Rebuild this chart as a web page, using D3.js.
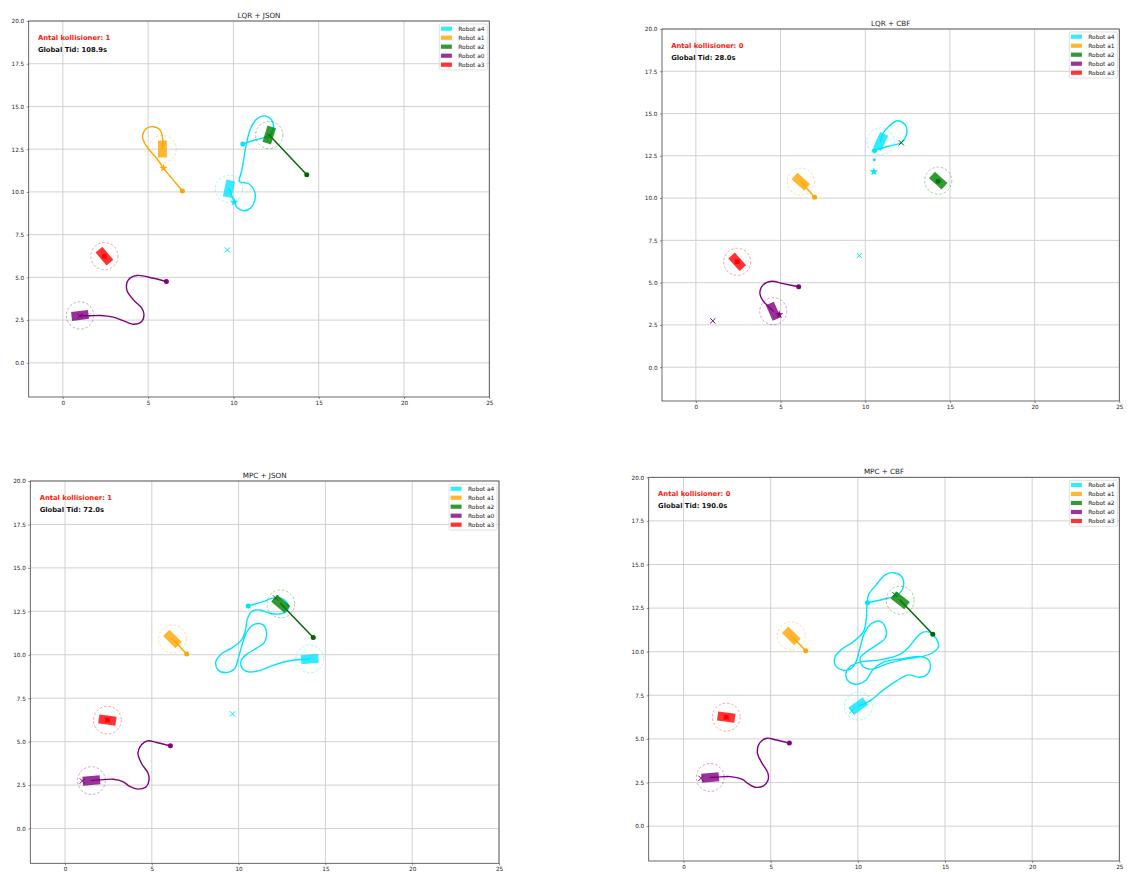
<!DOCTYPE html>
<html>
<head>
<meta charset="utf-8">
<script src="https://cdn.jsdelivr.net/npm/d3@7"></script>
<style>
  body { margin: 0; background: #fff; }
  svg { display: block; font-family: "DejaVu Sans", sans-serif; }
</style>
</head>
<body>
<svg id="fig" width="1127" height="874"></svg>
<script>
// ---- shared settings -------------------------------------------------------
const robotNames  = ["Robot a4", "Robot a1", "Robot a2", "Robot a0", "Robot a3"];
const robotColors = ["#00e5ff", "#ffa500", "#008000", "#800080", "#ff0000"];
const pathColors  = ["#00e5ff", "#ffa500", "#006400", "#800080", "#ff0000"];

const panelTitles     = ["LQR + JSON", "LQR + CBF", "MPC + JSON", "MPC + CBF"];
const collisionCounts = [1, 0, 1, 0];
const globalTimes     = ["108.9", "28.0", "72.0", "190.0"];

const xTicks  = [0, 5, 10, 15, 20, 25];
const yTicks  = [0, 2.5, 5, 7.5, 10, 12.5, 15, 17.5, 20];
const xDomain = [-2, 25];
const yDomain = [-2, 20];

// start and goal positions, robot order a4, a1, a2, a0, a3 (null = no goal marker)
const startPoints = [[10.55, 12.81], [7.01, 10.05], [14.3, 11.0], [6.07, 4.76], [2.44, 6.24]];
const goalPoints  = [[9.65, 6.6], null, [12.13, 13.27], [1.0, 2.74], [2.44, 6.24]];

// ---- LQR + JSON ------------------------------------------------------------
const lqrJsonPaths = [
  [[10.55,12.81],[11.3,13.05],[12.05,13.3],[12.35,13.75],[12.2,14.25],[11.8,14.45],[11.35,14.25],
   [11.0,13.7],[10.8,13.0],[10.65,12.2],[10.5,11.3],[10.35,10.6],[10.6,10.55],[10.95,10.45],
   [11.25,10.0],[11.25,9.5],[11.0,9.05],[10.6,8.9],[10.2,9.1],[10.05,9.4],[9.9,9.8],[9.74,10.18]],
  [[7.01,10.05],[6.45,10.72],[5.9,11.39],[5.5,11.97],[4.92,12.65],[4.67,13.23],[4.92,13.72],
   [5.25,13.82],[5.7,13.63],[5.86,13.04],[5.84,12.51]],
  [[14.3,11.0],[12.1,13.33]],
  [[6.07,4.76],[5.31,4.95],[4.33,5.11],[3.84,4.85],[3.75,4.27],[4.14,3.68],[4.63,3.2],[4.76,2.81],
   [4.63,2.42],[4.14,2.26],[3.65,2.42],[2.96,2.67],[2.19,2.77],[1.5,2.75],[1.01,2.77]],
  [[2.44,6.24]]
];
const lqrJsonPoses = [[9.74,10.18,78],[5.84,12.51,90],[12.1,13.33,73],[1.01,2.77,7],[2.44,6.24,-50]];
const lqrJsonStars = [[0,10.05,9.4],[1,5.9,11.39]];
const lqrJsonDots  = [];

// ---- LQR + CBF -------------------------------------------------------------
const lqrCbfPaths = [
  [[10.55,12.81],[11.3,13.05],[12.13,13.29],[12.42,13.7],[12.38,14.3],[11.9,14.57],[11.4,14.25],
   [11.0,13.75],[10.91,13.35]],
  [[7.01,10.05],[6.2,10.97]],
  [[14.3,11.0]],
  [[6.07,4.76],[5.16,4.94],[4.47,5.08],[3.98,4.88],[3.78,4.39],[3.98,3.9],[4.27,3.6],[4.57,3.31]],
  [[2.44,6.24]]
];
const lqrCbfPoses = [[10.91,13.35,65],[6.2,10.97,-42],[14.31,11.03,-42],[4.57,3.31,-66],[2.44,6.23,-48]];
const lqrCbfStars = [[0,10.51,11.56],[3,4.92,3.11]];
const lqrCbfDots  = [[0,10.53,12.27]];

// ---- MPC + JSON ------------------------------------------------------------
const mpcJsonPaths = [
  [[10.55,12.81],[11.41,13.06],[11.99,13.26],[12.56,13.2],[12.85,12.87],[12.8,12.54],[12.37,12.35],
   [11.8,12.39],[11.22,12.58],[10.74,12.49],[10.49,12.01],[10.4,11.43],[10.17,10.86],[9.59,10.38],
   [9.01,10.05],[8.69,9.61],[8.82,9.13],[9.3,8.98],[9.78,9.21],[9.97,9.75],[10.17,10.47],[10.49,11.34],
   [10.93,11.76],[11.41,11.72],[11.61,11.24],[11.47,10.7],[11.03,10.38],[10.55,10.09],[10.17,9.71],
   [10.17,9.29],[10.55,9.02],[11.12,9.07],[11.8,9.32],[12.56,9.57],[13.34,9.71],[14.1,9.76]],
  [[7.01,10.05],[6.19,10.91]],
  [[14.3,11.0],[12.43,12.93]],
  [[6.07,4.76],[5.27,4.95],[4.78,5.05],[4.4,4.82],[4.2,4.34],[4.4,3.76],[4.78,3.19],[4.84,2.8],
   [4.69,2.42],[4.2,2.27],[3.73,2.42],[3.34,2.7],[2.77,2.84],[2.0,2.8],[1.52,2.76]],
  [[2.44,6.24]]
];
const mpcJsonPoses = [[14.1,9.76,5],[6.19,10.91,-45],[12.43,12.93,-40],[1.52,2.76,5],[2.44,6.24,-8]];
const mpcJsonStars = [];
const mpcJsonDots  = [];

// ---- MPC + CBF -------------------------------------------------------------
const mpcCbfPaths = [
  [[10.55,12.81],[11.47,13.01],[12.27,13.25],[12.61,13.73],[12.52,14.3],[12.04,14.53],[11.57,14.4],
   [11.05,13.83],[10.61,13.25],[10.52,12.58],[10.48,11.82],[10.32,11.15],[9.75,10.58],[9.08,10.14],
   [8.7,9.72],[8.7,9.24],[9.08,8.96],[9.56,9.0],[9.9,9.43],[10.09,10.1],[10.42,11.15],[10.86,11.67],
   [11.32,11.73],[11.62,11.25],[11.57,10.77],[11.09,10.39],[10.52,10.01],[10.13,9.63],[10.29,9.15],
   [10.8,9.0],[11.66,9.3],[12.81,9.59],[13.67,9.72],[14.24,9.91],[14.62,10.29],[14.5,10.75],
   [14.15,11.1],[13.75,11.12],[13.35,10.8],[12.95,10.3],[12.43,9.86],[11.28,9.53],[10.23,9.43],
   [9.56,9.15],[9.31,8.67],[9.56,8.23],[10.03,8.15],[10.48,8.38],[10.86,8.96],[11.47,9.4],
   [12.61,9.6],[13.57,9.72],[14.05,9.53],[14.15,9.05],[13.86,8.61],[13.47,8.54],[12.9,8.67],
   [12.24,8.34],[11.47,7.81],[10.71,7.2],[10.03,6.88]],
  [[7.01,10.05],[6.18,10.91]],
  [[14.3,11.0],[12.43,12.95]],
  [[6.07,4.76],[5.26,4.95],[4.78,5.04],[4.36,4.76],[4.24,4.18],[4.5,3.61],[4.84,3.04],[4.84,2.61],
   [4.59,2.31],[4.11,2.23],[3.73,2.42],[3.35,2.69],[2.68,2.84],[1.92,2.81],[1.53,2.79]],
  [[2.44,6.24]]
];
const mpcCbfPoses = [[10.03,6.88,36],[6.18,10.91,-45],[12.43,12.95,-38],[1.53,2.79,5],[2.45,6.25,-8]];
const mpcCbfStars = [];
const mpcCbfDots  = [];

// ---- layout of the four axes (pixels) -------------------------------------
const panelBoxes = [
  { l: 28.7,  t: 21,    w: 460.6, h: 376   },
  { l: 662,   t: 29,    w: 457.3, h: 372   },
  { l: 30.3,  t: 481,   w: 468.7, h: 382.3 },
  { l: 648.7, t: 477.3, w: 470.6, h: 383.7 }
];

const panels = [
  { paths: lqrJsonPaths, poses: lqrJsonPoses, stars: lqrJsonStars, dots: lqrJsonDots },
  { paths: lqrCbfPaths,  poses: lqrCbfPoses,  stars: lqrCbfStars,  dots: lqrCbfDots  },
  { paths: mpcJsonPaths, poses: mpcJsonPoses, stars: mpcJsonStars, dots: mpcJsonDots },
  { paths: mpcCbfPaths,  poses: mpcCbfPoses,  stars: mpcCbfStars,  dots: mpcCbfDots  }
];

const ROBOT_LEN = 1.0, ROBOT_WID = 0.52, SAFE_RADIUS = 0.8;

const svg = d3.select("#fig");

panels.forEach((p, pi) => {
  const box = panelBoxes[pi];
  const x = d3.scaleLinear().domain(xDomain).range([box.l, box.l + box.w]);
  const y = d3.scaleLinear().domain(yDomain).range([box.t + box.h, box.t]);
  const k = (x(1) - x(0));

  const g = svg.append("g");
  const clipId = "clip" + pi;
  g.append("clipPath").attr("id", clipId)
    .append("rect").attr("x", box.l).attr("y", box.t).attr("width", box.w).attr("height", box.h);

  // grid
  g.append("g").selectAll("line").data(xTicks).join("line")
    .attr("x1", d => x(d)).attr("x2", d => x(d))
    .attr("y1", box.t).attr("y2", box.t + box.h)
    .attr("stroke", "#cccccc").attr("stroke-width", 0.9);
  g.append("g").selectAll("line").data(yTicks).join("line")
    .attr("y1", d => y(d)).attr("y2", d => y(d))
    .attr("x1", box.l).attr("x2", box.l + box.w)
    .attr("stroke", "#cccccc").attr("stroke-width", 0.9);

  // axes
  const xAxis = d3.axisBottom(x).tickValues(xTicks).tickFormat(d3.format("d"))
    .tickSize(2).tickPadding(2);
  const yAxis = d3.axisLeft(y).tickValues(yTicks).tickFormat(d3.format(".1f"))
    .tickSize(2).tickPadding(2.5);
  const gx = g.append("g").attr("transform", `translate(0,${box.t + box.h})`).call(xAxis);
  const gy = g.append("g").attr("transform", `translate(${box.l},0)`).call(yAxis);
  [gx, gy].forEach(a => {
    a.select(".domain").remove();
    a.selectAll(".tick line").attr("stroke", "#444").attr("stroke-width", 0.6);
    a.selectAll(".tick text").attr("font-size", 5.7).attr("fill", "#222")
      .attr("font-family", "DejaVu Sans");
  });

  const plot = g.append("g").attr("clip-path", `url(#${clipId})`);

  // trajectories
  const line = d3.line().x(d => x(d[0])).y(d => y(d[1])).curve(d3.curveCatmullRom.alpha(0.5));
  p.paths.forEach((path, ri) => {
    if (path.length < 2) return;
    plot.append("path").attr("d", line(path))
      .attr("fill", "none").attr("stroke", pathColors[ri])
      .attr("stroke-width", 1.4).attr("stroke-linejoin", "round").attr("stroke-linecap", "round");
  });

  // start markers
  startPoints.forEach((s, ri) => {
    plot.append("circle").attr("cx", x(s[0])).attr("cy", y(s[1])).attr("r", 2.5)
      .attr("fill", pathColors[ri]);
  });
  // extra waypoint dots
  p.dots.forEach(d => {
    plot.append("circle").attr("cx", x(d[1])).attr("cy", y(d[2])).attr("r", 1.5)
      .attr("fill", pathColors[d[0]]);
  });
  // goal markers
  goalPoints.forEach((gp, ri) => {
    if (!gp) return;
    const cx = x(gp[0]), cy = y(gp[1]), s = 2.6;
    plot.append("path")
      .attr("d", `M${cx - s},${cy - s}L${cx + s},${cy + s}M${cx - s},${cy + s}L${cx + s},${cy - s}`)
      .attr("stroke", pathColors[ri]).attr("stroke-width", 1).attr("fill", "none");
  });
  // current target stars
  const star = d3.symbol().type(d3.symbolStar).size(22);
  p.stars.forEach(st => {
    plot.append("path").attr("d", star())
      .attr("transform", `translate(${x(st[1])},${y(st[2])})`)
      .attr("fill", pathColors[st[0]]);
  });

  // robot bodies
  p.poses.forEach((pose, ri) => {
    plot.append("rect")
      .attr("x", -ROBOT_LEN * k / 2).attr("y", -ROBOT_WID * k / 2)
      .attr("width", ROBOT_LEN * k).attr("height", ROBOT_WID * k)
      .attr("transform", `translate(${x(pose[0])},${y(pose[1])}) rotate(${-pose[2]})`)
      .attr("fill", robotColors[ri]).attr("fill-opacity", 0.8);
  });
  // safety radius
  p.poses.forEach((pose, ri) => {
    plot.append("circle").attr("cx", x(pose[0])).attr("cy", y(pose[1]))
      .attr("r", SAFE_RADIUS * k)
      .attr("fill", "none").attr("stroke", robotColors[ri]).attr("stroke-opacity", 0.4)
      .attr("stroke-width", 0.9).attr("stroke-dasharray", "2.6,1.8");
  });

  // frame
  g.append("rect").attr("x", box.l).attr("y", box.t).attr("width", box.w).attr("height", box.h)
    .attr("fill", "none").attr("stroke", "#444").attr("stroke-width", 0.8);

  // title
  g.append("text").attr("x", box.l + box.w / 2).attr("y", box.t - 3.5)
    .attr("text-anchor", "middle").attr("font-size", 7.2).attr("fill", "#222")
    .text(panelTitles[pi]);

  // status text
  const tx = box.l + 0.02 * box.w;
  g.append("text").attr("x", tx).attr("y", box.t + 19)
    .attr("font-size", 6.8).attr("font-weight", "bold").attr("fill", "#ff1a0a")
    .text(`Antal kollisioner: ${collisionCounts[pi]}`);
  g.append("text").attr("x", tx).attr("y", box.t + 30.5)
    .attr("font-size", 6.8).attr("font-weight", "bold").attr("fill", "#111")
    .text(`Global Tid: ${globalTimes[pi]}s`);

  // legend
  const lw = 48, lh = 46;
  const lx = box.l + box.w - 2 - lw, ly = box.t + 3;
  const lg = g.append("g");
  lg.append("rect").attr("x", lx).attr("y", ly).attr("width", lw).attr("height", lh)
    .attr("rx", 1.5).attr("fill", "#fff").attr("fill-opacity", 0.85)
    .attr("stroke", "#d4d4d4").attr("stroke-width", 0.7);
  robotNames.forEach((name, i) => {
    const cy = ly + 4.7 + i * 9;
    lg.append("rect").attr("x", lx + 1.6).attr("y", cy - 2.1).attr("width", 11)
      .attr("height", 4.2).attr("fill", robotColors[i]).attr("fill-opacity", 0.8);
    lg.append("text").attr("x", lx + 19).attr("y", cy + 2)
      .attr("font-size", 5.9).attr("fill", "#222").text(name);
  });
});
</script>
</body>
</html>
